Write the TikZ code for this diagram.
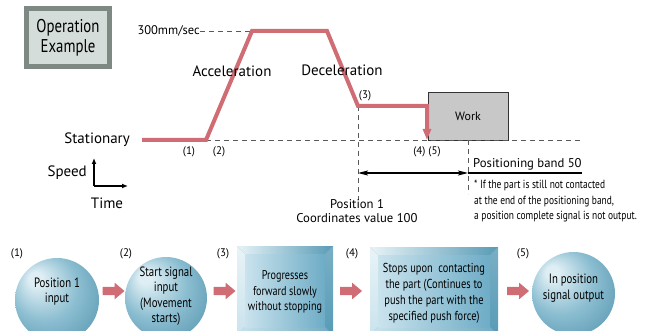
\documentclass[tikz,border=0pt]{standalone}
\usepackage{fontspec}
\setmainfont{PT Sans}
\newfontfamily\condfont[FakeStretch=0.8]{PT Sans}
\usepackage{tikz}
\usetikzlibrary{arrows.meta, shapes.arrows}

\definecolor{profred}{RGB}{208,108,116}
\definecolor{opframe}{RGB}{127,137,132}
\definecolor{opfill}{RGB}{213,221,218}
\definecolor{workgray}{RGB}{200,200,200}
\definecolor{bubhi}{RGB}{222,238,244}
\definecolor{bubmid}{RGB}{140,190,209}
\definecolor{bubdark}{RGB}{66,134,162}
\definecolor{facelight}{RGB}{202,227,237}
\definecolor{facedark}{RGB}{110,172,198}
\definecolor{bevlight}{RGB}{232,243,247}
\definecolor{bevdark}{RGB}{88,155,182}

\pgfdeclareradialshading{bubble}{\pgfpoint{-14bp}{14bp}}{%
  color(0bp)=(bubhi); color(4bp)=(bubhi); color(20bp)=(bubmid); color(44bp)=(bubdark)}

% beveled box: x1, y1 (top), x2, y2 (bottom)
\newcommand{\bevelbox}[4]{
	\fill[bevdark] (#1,#2) rectangle (#3,#4);
	\shade[left color=bevlight, right color=bevdark]
		(#1,#2) -- (#3,#2) -- (#3-8,#2+8) -- (#1+8,#2+8) -- cycle;
	\shade[top color=bevlight, bottom color=facelight]
		(#1,#2) -- (#1+8,#2+8) -- (#1+8,#4-8) -- (#1,#4) -- cycle;
	\shade[top color=bevdark!80!white, bottom color=bevdark]
		(#3,#2) -- (#3,#4) -- (#3-8,#4-8) -- (#3-8,#2+8) -- cycle;
	\shade[left color=facelight, right color=bevdark!85!white]
		(#1,#4) -- (#1+8,#4-8) -- (#3-8,#4-8) -- (#3,#4) -- cycle;
	\shade[left color=facelight, right color=facedark]
		(#1+8,#2+8) rectangle (#3-8,#4-8);
}

\tikzset{
	lbl/.style={font=\fontsize{15}{17}\selectfont, inner sep=0pt},
	num/.style={font=\fontsize{11}{13}\selectfont, inner sep=0pt},
	midtext/.style={font=\fontsize{12.7}{14}\selectfont, inner sep=0pt, align=center},
	note/.style={font=\condfont\fontsize{11.8}{15.5}\selectfont, inner sep=0pt, align=left},
	steptext/.style={font=\condfont\fontsize{13.5}{15.5}\selectfont, inner sep=0pt, align=center},
	profile/.style={draw=profred, line width=4pt},
	guide/.style={draw=black!65, dash pattern=on 5pt off 4pt, line width=0.8pt},
	bubblenode/.style={circle, shading=bubble, inner sep=0pt},
	blockarrow/.style={single arrow, fill=profred, inner xsep=0pt, inner ysep=4pt,
		minimum height=22pt, single arrow head extend=4pt, single arrow tip angle=80},
}

\begin{document}
\begin{tikzpicture}[x=1pt, y=-1pt]
	\useasboundingbox (0,0) rectangle (658,331);
	\clip (0,0) rectangle (658,331);

	%% upper half
	% title box
	\node[draw=opframe, line width=5pt, fill=opfill, minimum width=83pt, minimum height=58pt,
		font=\condfont\fontsize{18.5}{20}\selectfont, align=center] (opex) at (68,37.5) {Operation\\Example};

	% profile points
	\coordinate (p0) at (142,140);
	\coordinate (p1) at (206,140);
	\coordinate (p2) at (252,31);
	\coordinate (p3) at (327,31);
	\coordinate (p4) at (358,106);
	\coordinate (p5) at (427,106);
	\coordinate (p6) at (427,140);
	\coordinate (g1) at (582,140);
	\coordinate (g2) at (358,200);
	\coordinate (g3) at (468,140);
	\coordinate (g4) at (468,194);

	% work
	\node[draw=black!80, fill=workgray, line width=0.8pt, minimum width=80pt, minimum height=48pt,
		font=\fontsize{12}{14}\selectfont] (work) at (468,116) {Work};

	% guides
	\node[num, anchor=east, font=\fontsize{12.5}{14}\selectfont] (vmax) at (200,31) {300mm/sec};
	\draw[guide] (vmax.east) -- (p2);
	\draw[guide] (p1) -- (g1);
	\draw[guide] (p4) -- (g2);
	\draw[guide] (g3) -- (g4);

	% speed profile
	\draw[profile, -{Triangle[width=8pt, length=11pt]}] (p0) -- (p1) -- (p2) -- (p3) -- (p4) -- (p5) -- (p6);

	\node[lbl] (accel) at (232,71) {Acceleration};
	\node[lbl] (decel) at (342,70) {Deceleration};
	\node[lbl, anchor=east] (stat) at (130,140) {Stationary};
	\node[num] (n1) at (189,152) {(1)};
	\node[num] (n2) at (219,152) {(2)};
	\node[num] (n3) at (365,96) {(3)};
	\node[num] (n45) at (427,152) {(4) (5)};

	% positioning band
	\coordinate (b1) at (358,173);
	\coordinate (b2) at (468,173);
	\coordinate (b3) at (582,173);
	\draw[line width=1.2pt, {Stealth[length=10pt, width=5pt, inset=2pt]}-{Stealth[length=10pt, width=5pt, inset=2pt]}] (b1) -- (b2);
	\draw[line width=1.2pt] (b2) -- (b3);
	\node[midtext, anchor=west] (band) at (473,164) {Positioning band 50};
	\node[note, anchor=north west] (rem) at (474,180) {* If the part is still not contacted\\at the end of the positioning band,\\a position complete signal is not output.};
	\node[midtext] (pos1) at (357,211.5) {Position 1\\Coordinates value 100};

	% axes
	\coordinate (ax0) at (94,186);
	\coordinate (axy) at (94,158);
	\coordinate (axx) at (128,186);
	\draw[line width=1.3pt, -{Latex[length=6pt, width=5pt]}] (ax0) -- (axy);
	\draw[line width=1.3pt, -{Latex[length=6pt, width=5pt]}] (ax0) -- (axx);
	\node[lbl, anchor=east] (speed) at (87,173) {Speed};
	\node[lbl] (time) at (107,203) {Time};

	%% lower half
	% steps
	\node[bubblenode, minimum size=84pt] (c1) at (57,300) {};
	\node[bubblenode, minimum size=82pt] (c2) at (166,298) {};
	\bevelbox{237}{246}{333}{335}
	\bevelbox{370}{247}{498}{335}
	\node[bubblenode, minimum size=83pt] (c5) at (573.5,293.5) {};

	\node[steptext] (t1) at (57,291.5) {Position 1\\input};
	\node[steptext] (t2) at (166,296) {Start signal\\input\\(Movement\\starts)};
	\node[steptext, font=\condfont\fontsize{12.7}{15.5}\selectfont] (t3) at (285,292) {Progresses\\forward slowly\\without stopping};
	\node[steptext, font=\condfont\fontsize{13}{16}\selectfont] (t4) at (434,293) {Stops upon\ \ contacting\\the part (Continues to\\push the part with the\\specified push force)};
	\node[steptext] (t5) at (573.5,288) {In position\\signal output};

	\node[num] (s1) at (17,254) {(1)};
	\node[num] (s2) at (126,254) {(2)};
	\node[num] (s3) at (223,254) {(3)};
	\node[num] (s4) at (352,254) {(4)};
	\node[num] (s5) at (523,254) {(5)};

	% arrows
	\node[blockarrow] (a1) at (111,291) {};
	\node[blockarrow] (a2) at (222,291) {};
	\node[blockarrow] (a3) at (348.5,291) {};
	\node[blockarrow] (a4) at (515.5,291) {};
\end{tikzpicture}
\end{document}
